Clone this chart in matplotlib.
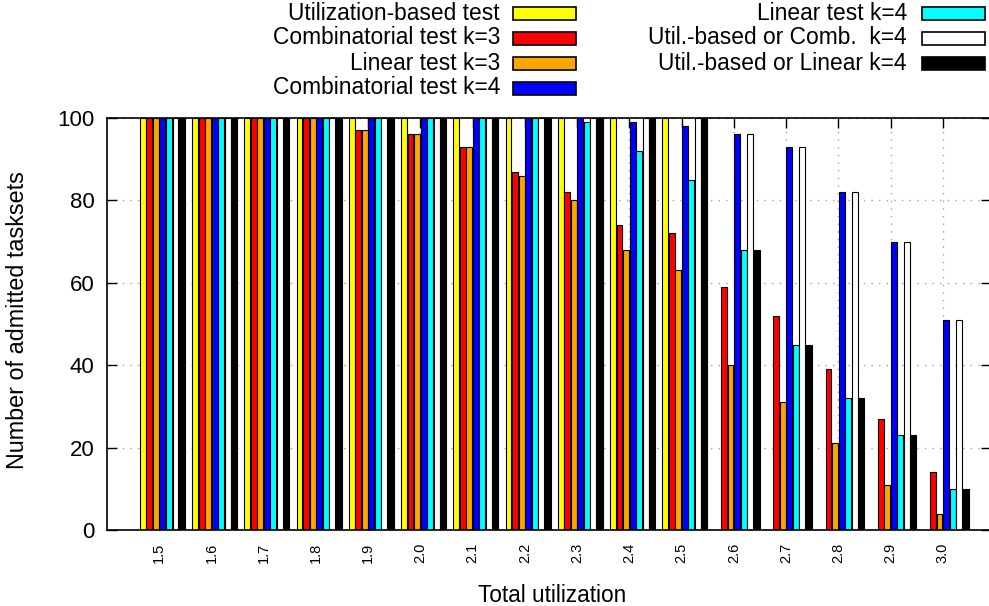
import numpy as np
import matplotlib
matplotlib.use("Agg")
import matplotlib.pyplot as plt
from matplotlib.patches import Rectangle

plt.rcParams['font.family'] = ['Liberation Sans', 'DejaVu Sans']

# data
utilization = ['1.5', '1.6', '1.7', '1.8', '1.9', '2.0', '2.1', '2.2',
               '2.3', '2.4', '2.5', '2.6', '2.7', '2.8', '2.9', '3.0']

util_based = [100, 100, 100, 100, 100, 100, 100, 100, 100, 100, 100, 0, 0, 0, 0, 0]
comb_k3 = [100, 100, 100, 100, 97, 96, 93, 87, 82, 74, 72, 59, 52, 39, 27, 14]
linear_k3 = [100, 100, 100, 100, 97, 96, 93, 86, 80, 68, 63, 40, 31, 21, 11, 4]
comb_k4 = [100, 100, 100, 100, 100, 100, 100, 100, 100, 99, 98, 96, 93, 82, 70, 51]
linear_k4 = [100, 100, 100, 100, 100, 100, 100, 100, 99, 92, 85, 68, 45, 32, 23, 10]
util_or_comb_k4 = [100, 100, 100, 100, 100, 100, 100, 100, 100, 100, 100, 96, 93, 82, 70, 51]
util_or_linear_k4 = [100, 100, 100, 100, 100, 100, 100, 100, 100, 100, 100, 68, 45, 32, 23, 10]

series_names = ['Utilization-based test', 'Combinatorial test k=3', 'Linear test k=3',
                'Combinatorial test k=4', 'Linear test k=4',
                'Util.-based or Comb.  k=4', 'Util.-based or Linear k=4']
series_values = [util_based, comb_k3, linear_k3, comb_k4, linear_k4,
                 util_or_comb_k4, util_or_linear_k4]
colors = ['#ffff00', '#ff0000', '#ffa500', '#0000ff', '#00ffff', '#ffffff', '#000000']

W, H = 989, 606
fig = plt.figure(figsize=(W / 100, H / 100), dpi=100)

# axes placed in pixel terms (left 107, bottom 530, top 118, right just off canvas)
left, right, top, bottom = 107, 991, 118, 530
ax = fig.add_axes([left / W, 1 - bottom / H, (right - left) / W, (bottom - top) / H])

x = np.arange(len(utilization))
n = len(series_names)
width = 0.9 / (n + 1)
# gnuplot-style clusters sit slightly right of the tick
shift = 0.06
for i, (vals, c) in enumerate(zip(series_values, colors)):
    ax.bar(x + shift + (i - (n - 1) / 2) / (n + 1), vals, width=width, color=c,
           edgecolor='black', linewidth=0.8, zorder=2)

ax.set_xlim(-1, 15.92)
ax.set_ylim(0, 100)
ax.set_yticks(range(0, 101, 20))
ax.set_xticks(x)
ax.set_xticklabels(utilization, rotation=90, fontsize=10.5)
ax.tick_params(axis='y', direction='in', length=7, width=1, labelsize=16,
               right=True, pad=9)
ax.tick_params(axis='x', direction='in', length=7, width=1, top=True, pad=9)
ax.set_axisbelow(True)
ax.grid(True, color='#a0a0a0', linestyle=(0, (1, 4.5)), linewidth=1)
ax.spines['right'].set_visible(False)
for s in ['left', 'top', 'bottom']:
    ax.spines[s].set_linewidth(1.2)

ax.set_xlabel('Total utilization', fontsize=16.3)
ax.set_ylabel('Number of admitted tasksets', fontsize=16.8)
ax.xaxis.set_label_coords(0.503, -0.131)
ax.yaxis.set_label_coords(-0.088, 0.51)

# legend in two columns, text right-aligned to the left of each colour box
col_text_right = [500, 907]
col_box_left = [513, 922]
box_w, box_h = 63, 13
row_y = [13, 38, 63, 88]
for i, (name, c) in enumerate(zip(series_names, colors)):
    col = 0 if i < 4 else 1
    row = i if i < 4 else i - 4
    yc = row_y[row]
    fig.text(col_text_right[col] / W, 1 - yc / H, name, ha='right', va='center',
             fontsize=16.4)
    fig.patches.append(Rectangle((col_box_left[col] / W, 1 - (yc + box_h / 2) / H),
                                 box_w / W, box_h / H, transform=fig.transFigure,
                                 facecolor=c, edgecolor='black', linewidth=1.2))

fig.savefig('out.png', dpi=100)
